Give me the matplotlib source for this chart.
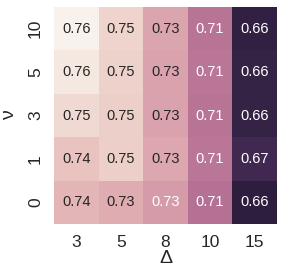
import matplotlib
matplotlib.use("Agg")
import matplotlib.pyplot as plt
import seaborn as sns
import numpy as np
import pandas as pd

deltas = ["3", "5", "8", "10", "15"]
nus = ["10", "5", "3", "1", "0"]
row_10 = [0.762, 0.750, 0.731, 0.710, 0.660]
row_5 = [0.758, 0.749, 0.730, 0.711, 0.661]
row_3 = [0.752, 0.748, 0.730, 0.710, 0.661]
row_1 = [0.743, 0.748, 0.732, 0.711, 0.665]
row_0 = [0.738, 0.734, 0.727, 0.708, 0.658]

df = pd.DataFrame([row_10, row_5, row_3, row_1, row_0], index=nus, columns=deltas)

sns.set_style("white")
plt.rcParams['font.family'] = ['Liberation Sans', 'DejaVu Sans']

fig = plt.figure(figsize=(2.84, 2.78), dpi=100)
ax = fig.add_axes([54/284, 1 - 224/278, 223/284, 217/278])
cmap = sns.cubehelix_palette(light=.95, reverse=True, as_cmap=True)
sns.heatmap(df, annot=True, fmt=".2f", cmap=cmap, cbar=False, ax=ax,
            annot_kws={"fontsize": 10.5})
ax.set_xlabel("Δ", fontsize=14, labelpad=0)
ax.set_ylabel("ν", fontsize=14, labelpad=7)
ax.tick_params(axis='both', length=0, labelsize=12.5, pad=8)
plt.setp(ax.get_yticklabels(), rotation=90, va='center')
plt.setp(ax.get_xticklabels(), rotation=0)
fig.savefig("out.png", dpi=100)
